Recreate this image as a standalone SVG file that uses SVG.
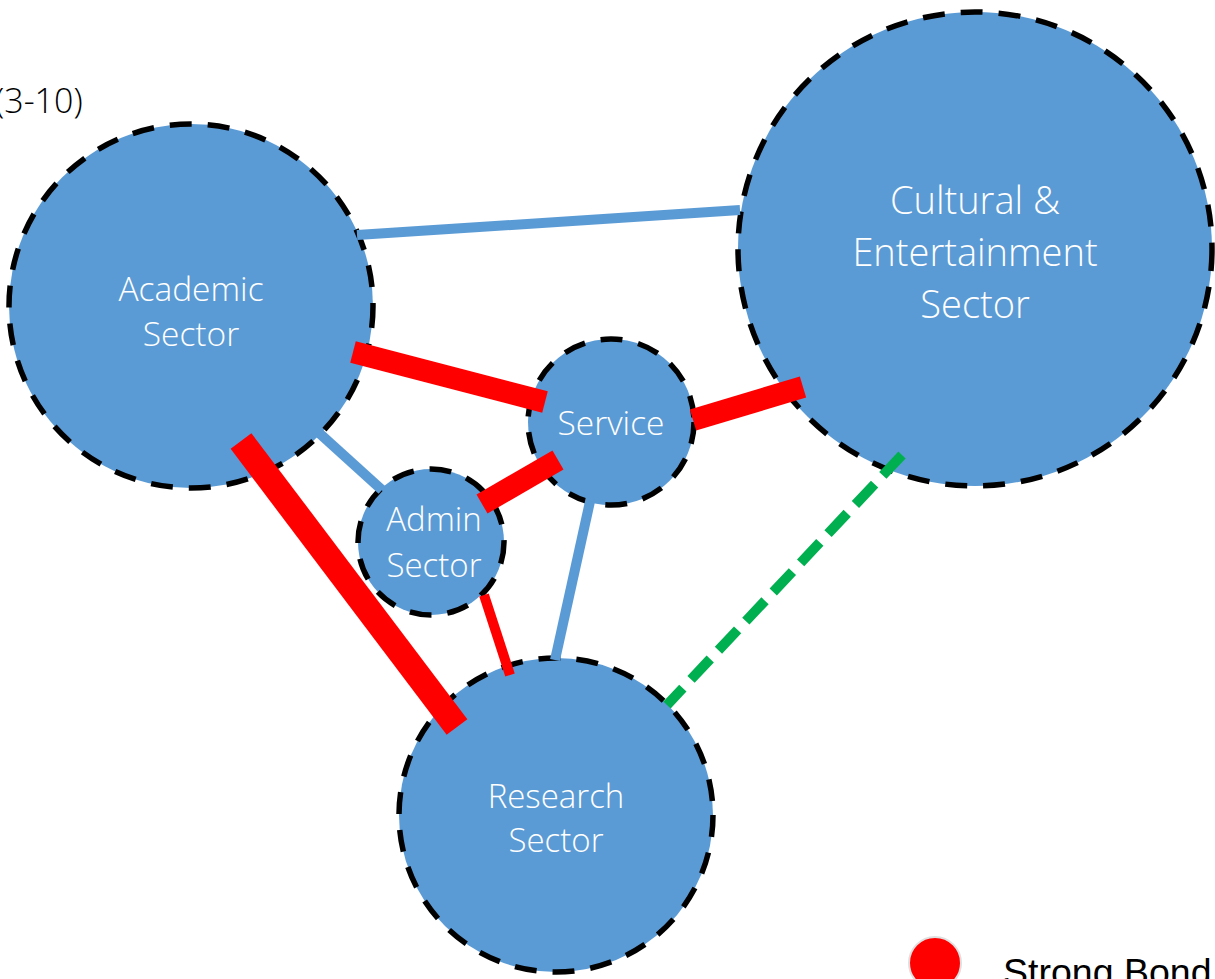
<svg xmlns="http://www.w3.org/2000/svg" width="1215" height="979" viewBox="0 0 1215 979">
<style>
.node{fill:#5b9bd5;stroke:#000;stroke-width:5.5;stroke-dasharray:22 16}
.lbl{fill:#fff;font-family:"Open Sans","Noto Sans",sans-serif;font-weight:300;text-anchor:middle;dominant-baseline:central}
.blue{stroke:#5b9bd5;stroke-width:10}
.red{stroke:#ff0000}
.green{stroke:#00b050;stroke-width:10;stroke-dasharray:28 12}
</style>
<rect width="1215" height="979" fill="#fff"/>
<text x="-5" y="113" font-family="Open Sans, sans-serif" font-weight="300" font-size="34" fill="#000">(3-10)</text>
<g id="academic"><circle class="node" cx="191" cy="306" r="182"/><text class="lbl" font-size="33.5"><tspan x="191" y="288">Academic</tspan><tspan x="191" y="333">Sector</tspan></text></g>
<g id="cultural"><circle class="node" cx="975" cy="249" r="237"/><text class="lbl" font-size="38"><tspan x="975" y="199">Cultural &amp;</tspan><tspan x="975" y="251">Entertainment</tspan><tspan x="975" y="303">Sector</tspan></text></g>
<g id="service"><circle class="node" cx="611" cy="422" r="83"/><text class="lbl" font-size="33.5" x="611" y="422">Service</text></g>
<g id="admin"><circle class="node" cx="431" cy="542" r="73"/><text class="lbl" font-size="33"><tspan x="434" y="518">Admin</tspan><tspan x="434" y="564">Sector</tspan></text></g>
<g id="research"><circle class="node" cx="556" cy="815" r="157"/><text class="lbl" font-size="33"><tspan x="556" y="795">Research</tspan><tspan x="556" y="839">Sector</tspan></text></g>
<g id="connectors">
<line class="blue" x1="357" y1="235" x2="740" y2="210"/>
<line class="blue" x1="318" y1="432" x2="382" y2="490"/>
<line class="blue" x1="591" y1="497" x2="555" y2="660" stroke-width="12"/>
<line class="red" x1="353" y1="352" x2="545" y2="402" stroke-width="22"/>
<line class="red" x1="693" y1="420" x2="803" y2="387" stroke-width="22"/>
<line class="red" x1="482" y1="504" x2="558" y2="460" stroke-width="22"/>
<line class="red" x1="241" y1="441" x2="457" y2="727" stroke-width="26"/>
<line class="red" x1="484" y1="595" x2="510" y2="675" stroke-width="10"/>
<line class="green" x1="902" y1="455" x2="667" y2="705"/>
</g>
<g id="legend">
<circle cx="935" cy="963" r="26" fill="#ff0000" stroke="#e0e0e0" stroke-width="2"/>
<text x="1003" y="985" font-family="Liberation Sans, Arial, sans-serif" font-size="37.5" fill="#000">Strong Bond</text>
</g>
</svg>
